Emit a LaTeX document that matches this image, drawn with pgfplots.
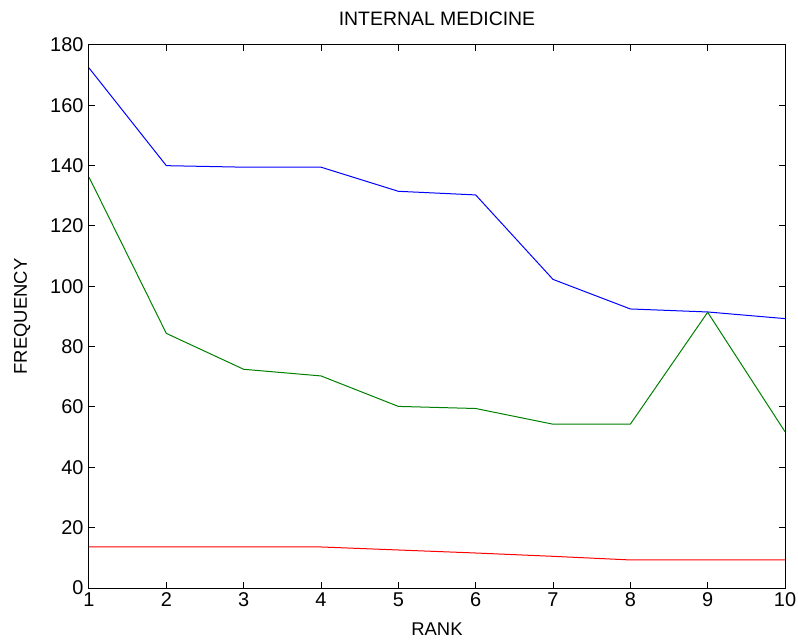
\documentclass[border=0pt]{standalone}
\usepackage{fontspec}
\setmainfont{Liberation Sans}
\usepackage{pgfplots}
\pgfplotsset{compat=1.18}
\begin{document}
\begin{tikzpicture}
\begin{axis}[
  at={(0,0)}, anchor=south west,
  scale only axis, width=696bp, height=543bp,
  xmin=1, xmax=10, ymin=0, ymax=180,
  xtick={1,...,10}, ytick={0,20,...,180},
  tick align=inside, major tick length=6bp,
  axis line style={line width=1bp}, tick style={line width=1bp, black},
  /pgf/number format/assume math mode=true,
  tick label style={font=\fontsize{20}{24}\selectfont},
  label style={font=\fontsize{18.5}{22}\selectfont},
  title={INTERNAL MEDICINE},
  title style={font=\fontsize{19.5}{23}\selectfont, at={(0.5,1)}, anchor=south, yshift=10bp},
  xlabel={RANK}, ylabel={FREQUENCY},
  xlabel style={at={(0.5,0)}, anchor=north, yshift=-31bp},
  ylabel style={at={(0,0.5)}, anchor=south, yshift=55bp},
  xticklabel style={yshift=-1bp},
  yticklabel style={xshift=-2bp},
]
\addplot[blue, line width=1bp] coordinates {(1,172.4) (2,140.0) (3,139.5) (4,139.5) (5,131.5) (6,130.3) (7,102.3) (8,92.5) (9,91.5) (10,89.3)};
\addplot[green!50!black, line width=1bp] coordinates {(1,136.2) (2,84.4) (3,72.5) (4,70.3) (5,60.2) (6,59.5) (7,54.3) (8,54.3) (9,91.4) (10,51.8)};
\addplot[red, line width=1bp] coordinates {(1,13.6) (2,13.6) (3,13.6) (4,13.6) (5,12.6) (6,11.6) (7,10.5) (8,9.3) (9,9.3) (10,9.3)};
\end{axis}
\pgfresetboundingbox
\useasboundingbox (-89bp,-55bp) rectangle (709bp,588bp);
\end{tikzpicture}
\end{document}
